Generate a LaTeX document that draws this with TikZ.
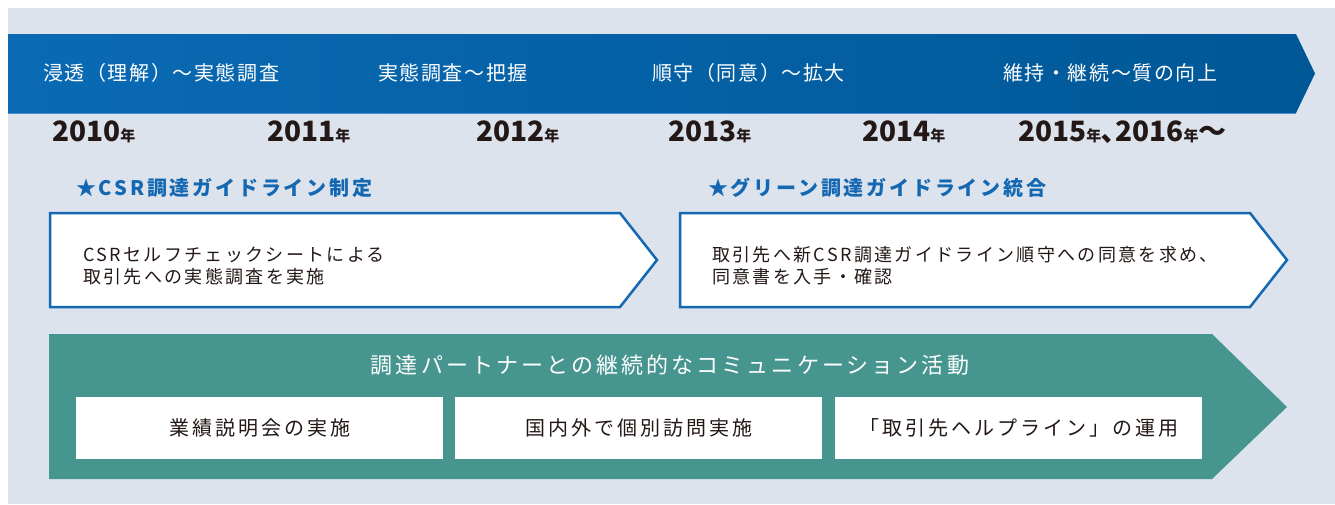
\documentclass[tikz,border=0pt]{standalone}
\usepackage{fontspec}
\setmainfont{Noto Sans CJK JP}
\usetikzlibrary{positioning}
\definecolor{paper}{HTML}{DCE3ED}
\definecolor{bandl}{HTML}{0A6AB4}
\definecolor{bandr}{HTML}{005796}
\definecolor{bandline}{HTML}{4C8ED0}
\definecolor{frame}{HTML}{1468B2}
\definecolor{teal}{HTML}{46958F}
\definecolor{ink}{HTML}{231815}
\newcommand{\nen}{{\fontsize{15}{16}\selectfont 年}}
\newcommand{\track}[2]{\fontsize{#1}{1.2\dimexpr#1pt\relax}\selectfont\addfontfeature{LetterSpace=#2}}

\begin{document}
\begin{tikzpicture}[x=1pt,y=-1pt,
  bandtxt/.style={text=white,font=\track{20}{8},anchor=west,inner sep=0pt},
  yeartxt/.style={text=ink,font=\bfseries\fontsize{28}{30}\selectfont,anchor=west,inner sep=0pt},
  headtxt/.style={text=frame,font=\bfseries\track{20}{14},anchor=west,inner sep=0pt},
  boxtxt/.style={text=ink,font=\fontsize{18}{22}\selectfont\addfontfeature{LetterSpace=13},
                 anchor=west,align=left,inner sep=0pt},
  actbox/.style={fill=white,minimum width=367pt,minimum height=62pt,inner sep=0pt,
                 text=ink,font=\track{20}{15}}]
  \useasboundingbox (0,0) rectangle (1335,504);
  \fill[white] (0,0) rectangle (1335,504);
  \fill[paper] (8,8) rectangle (1335,504);

  % timeline band
  \shade[left color=bandl,right color=bandr]
    (8,34) -- (1296,34) -- (1315,73.5) -- (1296,113) -- (8,113) -- cycle;
  \draw[bandline,line width=1pt] (8,113) -- (1296,113);
  \node[bandtxt] (ph1) at (43,73) {浸透（理解）～実態調査};
  \node[bandtxt] (ph2) at (378,73) {実態調査～把握};
  \node[bandtxt] (ph3) at (652,73) {順守（同意）～拡大};
  \node[bandtxt] (ph4) at (1003,73) {維持・継続～質の向上};

  % years
  \node[yeartxt] (y2010) at (52,132) {2010\nen};
  \node[yeartxt] (y2011) at (267,132) {2011\nen};
  \node[yeartxt] (y2012) at (476,132) {2012\nen};
  \node[yeartxt] (y2013) at (668,132) {2013\nen};
  \node[yeartxt] (y2014) at (862,132) {2014\nen};
  \node[yeartxt] (y2015) at (1018,132) {2015\nen､2016\nen～};

  % guideline steps
  \node[headtxt] (csrhead) at (76,188) {★CSR調達ガイドライン制定};
  \node[headtxt] (grnhead) at (708,188) {★グリーン調達ガイドライン統合};
  \draw[frame,line width=2.5pt,fill=white]
    (50,213) -- (620,213) -- (657,260) -- (620,307) -- (50,307) -- cycle;
  \draw[frame,line width=2.5pt,fill=white]
    (680,213) -- (1250,213) -- (1287,260) -- (1250,307) -- (680,307) -- cycle;
  \node[boxtxt] (csrtxt) at (83,266) {CSRセルフチェックシートによる\\取引先への実態調査を実施};
  \node[boxtxt] (grntxt) at (712,266) {取引先へ新CSR調達ガイドライン順守への同意を求め、\\同意書を入手・確認};

  % communication activities
  \fill[teal] (49,334) -- (1212,334) -- (1287,407) -- (1212,479) -- (49,479) -- cycle;
  \node[text=white,font=\track{22}{14},inner sep=0pt] (commhead) at (670,365)
    {調達パートナーとの継続的なコミュニケーション活動};
  \node[actbox] (brief) at (259.5,428) {業績説明会の実施};
  \node[actbox] (visit) at (638.5,428) {国内外で個別訪問実施};
  \node[actbox] (help)  at (1018.5,428) {「取引先ヘルプライン」の運用};
\end{tikzpicture}
\end{document}
